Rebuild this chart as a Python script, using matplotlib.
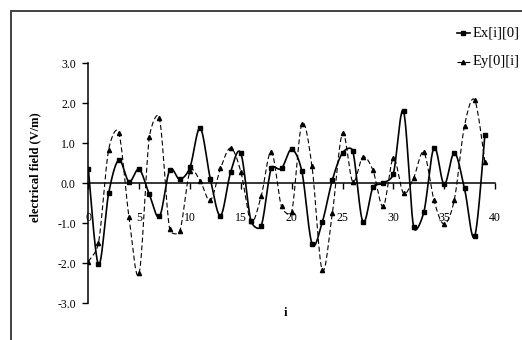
import numpy as np
import matplotlib.pyplot as plt
from matplotlib.patches import Rectangle
from matplotlib.lines import Line2D

plt.rcParams['font.family'] = ['Liberation Serif', 'DejaVu Serif']

i_vals = np.arange(40)

ex_vals = [0.35, -2.03, -0.25, 0.58, 0.04, 0.35, -0.28, -0.83, 0.33, 0.10,
           0.40, 1.38, 0.11, -0.81, 0.28, 0.75, -0.94, -1.07, 0.38, 0.37,
           0.85, 0.30, -1.51, -0.98, 0.08, 0.76, 0.81, -0.96, -0.10, 0.00,
           0.24, 1.80, -1.10, -0.72, 0.89, -0.03, 0.76, -0.13, -1.33, 1.20]

ey_vals = [-1.96, -1.49, 0.84, 1.26, -0.85, -2.25, 1.15, 1.62, -1.15, -1.19,
           0.30, 0.06, -0.43, 0.37, 0.88, 0.29, -0.95, -0.32, 0.79, -0.58,
           -0.72, 1.48, 0.42, -2.17, -0.75, 1.25, 0.04, 0.65, 0.32, -0.58,
           0.62, -0.25, 0.14, 0.77, -0.43, -1.02, -0.41, 1.44, 2.08, 0.54]

x_ticks = [0, 5, 10, 15, 20, 25, 30, 35, 40]
y_ticks = [-3.0, -2.0, -1.0, 0.0, 1.0, 2.0, 3.0]

# pixels per data unit, used so the curve is smoothed in screen space
SX = 10.17
SY = 40.0


def smooth(x, y, n=24):
    # bezier pieces with control arms (P2-P0)/6, capped at half the segment,
    # the way spreadsheet "smoothed lines" are drawn
    p = np.column_stack([np.asarray(x, float) * SX, np.asarray(y, float) * SY])
    p = np.vstack([p[0], p, p[-1]])
    t = np.linspace(0, 1, n, endpoint=False)[:, None]
    pts = []
    for k in range(1, len(p) - 2):
        p0, p1, p2, p3 = p[k - 1], p[k], p[k + 1], p[k + 2]
        d12 = np.hypot(*(p2 - p1))
        a1 = (p2 - p0) / 6
        a2 = (p3 - p1) / 6
        for a in (a1, a2):
            la = np.hypot(*a)
            if la > d12 / 2 and la > 0:
                a *= d12 / 2 / la
        b1 = p1 + a1
        b2 = p2 - a2
        seg = ((1 - t) ** 3 * p1 + 3 * (1 - t) ** 2 * t * b1
               + 3 * (1 - t) * t ** 2 * b2 + t ** 3 * p2)
        pts.append(seg)
    pts.append(p[-2][None, :])
    pts = np.vstack(pts)
    return pts[:, 0] / SX, pts[:, 1] / SY


fig = plt.figure(figsize=(5.22, 3.40), dpi=100)
ax = fig.add_axes([0.1692, 0.108, 0.7791, 0.7059])

# outer frame (only top and left edges fall inside the image)
fig.add_artist(Rectangle((11 / 522, -0.1), 1.2, 1 - 11 / 340 + 0.1,
                         transform=fig.transFigure, fill=False,
                         edgecolor='#333333', linewidth=1.3))

ex_style = dict(color='black', linewidth=1.2)
ey_style = dict(color='black', linewidth=0.8, dashes=(4.5, 2.5))

sx, sy = smooth(i_vals, ex_vals)
ax.plot(sx, sy, **ex_style)
ax.plot(i_vals, ex_vals, linestyle='none', marker='s', markersize=2.8,
        color='black')

sx, sy = smooth(i_vals, ey_vals)
ax.plot(sx, sy, **ey_style)
ax.plot(i_vals, ey_vals, linestyle='none', marker='^', markersize=3,
        color='black')

# legend drawn by hand in figure pixels
W, H = 522.0, 340.0
for row_y, style, mk, label in [(33.3, ex_style, 's', 'Ex[i][0]'),
                                (61.7, ey_style, '^', 'Ey[0][i]')]:
    fy = 1 - row_y / H
    fig.add_artist(Line2D([456.7 / W, 470 / W], [fy, fy],
                          transform=fig.transFigure, **style))
    fig.add_artist(Line2D([463.3 / W], [fy], transform=fig.transFigure,
                          linestyle='none', marker=mk, markersize=3,
                          color='black'))
    fig.text(472.7 / W, fy, label, ha='left', va='center', fontsize=10.5)

ax.set_xlim(0, 40)
ax.set_ylim(-3, 3)
ax.spines['top'].set_visible(False)
ax.spines['right'].set_visible(False)
ax.spines['bottom'].set_position(('data', 0))
ax.spines['bottom'].set_linewidth(1.1)
ax.spines['left'].set_linewidth(1.1)

ax.set_xticks(x_ticks)
ax.set_xticklabels([str(v) for v in x_ticks])
ax.set_yticks(y_ticks)
ax.set_yticklabels(['%.1f' % v for v in y_ticks])
ax.tick_params(axis='x', direction='out', length=4, width=1, pad=17,
               labelsize=8.5)
ax.tick_params(axis='y', direction='out', length=4, width=1, pad=5,
               labelsize=8.5)

fig.text(35 / W, 1 - 167 / H, 'electrical field (V/m)', rotation=90,
         ha='center', va='center', fontsize=9, fontweight='bold')
fig.text(285 / W, 1 - 313 / H, 'i', ha='center', va='center',
         fontsize=9, fontweight='bold')

fig.savefig('out.png', dpi=100)
